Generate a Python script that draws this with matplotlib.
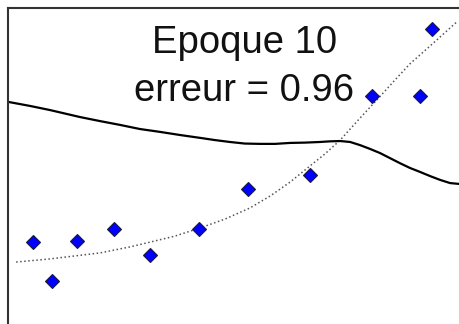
import matplotlib
matplotlib.use("Agg")
import matplotlib.pyplot as plt

# Training samples
sample_x = [0.55, 0.97, 1.53, 2.35, 3.14, 4.23, 5.31, 6.68, 8.05, 9.12, 9.38]
sample_y = [2.59, 1.36, 2.63, 3.01, 2.18, 3.01, 4.27, 4.72, 7.22, 7.22, 9.34]

# Target function (dotted)
target_x = [0.18, 0.93, 2.04, 2.70, 3.14, 3.69, 4.25, 4.80, 5.35, 5.80, 6.24,
            6.68, 7.01, 7.35, 7.79, 8.16, 8.56, 8.89, 9.34, 9.93]
target_y = [1.96, 2.06, 2.25, 2.44, 2.59, 2.78, 3.04, 3.32, 3.67, 4.05, 4.49,
            5.00, 5.38, 5.82, 6.52, 7.09, 7.72, 8.23, 8.80, 9.56]

# Network output after epoch 10 (solid)
net_x = [0.0, 0.49, 0.93, 1.59, 2.04, 2.48, 2.92, 3.36, 3.81, 4.25, 4.58,
         4.91, 5.24, 5.58, 5.91, 6.24, 6.57, 6.90, 7.12, 7.35, 7.57, 7.79,
         8.01, 8.23, 8.45, 8.67, 8.89, 9.12, 9.34, 9.56, 9.78, 10.0]
net_y = [7.03, 6.90, 6.77, 6.55, 6.42, 6.30, 6.17, 6.08, 5.98, 5.89, 5.82,
         5.76, 5.71, 5.70, 5.70, 5.73, 5.74, 5.76, 5.78, 5.79, 5.76, 5.66,
         5.54, 5.41, 5.25, 5.09, 4.94, 4.81, 4.68, 4.56, 4.46, 4.43]

epoch = 10
error = 0.96

W, H = 460, 324
fig = plt.figure(figsize=(W / 100, H / 100), dpi=100)
ax = fig.add_axes([8 / W, 0, (W - 8) / W, (H - 8) / H])
ax.set_xlim(0, 10)
ax.set_ylim(0, 10)

ax.plot(target_x, target_y, linestyle=":", color="#555555", linewidth=1.1)
ax.plot(net_x, net_y, color="black", linewidth=1.6, solid_joinstyle="round")
ax.plot(sample_x, sample_y, linestyle="none", marker="D", markersize=7.2,
        markerfacecolor="#0000ff", markeredgecolor="#1a1a40", markeredgewidth=0.8)

for side in ("right", "bottom"):
    ax.spines[side].set_visible(False)
for side in ("left", "top"):
    ax.spines[side].set_color("#333333")
    ax.spines[side].set_linewidth(1.5)
ax.set_xticks([])
ax.set_yticks([])

fig.text(245 / W, 1 - 52.7 / H, f"Epoque {epoch}", ha="center", va="baseline",
         fontsize=27.5, family="Liberation Sans", color="#111111")
fig.text(244 / W, 1 - 100.7 / H, f"erreur = {error:.2f}", ha="center", va="baseline",
         fontsize=27.5, family="Liberation Sans", color="#111111")

fig.savefig("out.png", dpi=100)
